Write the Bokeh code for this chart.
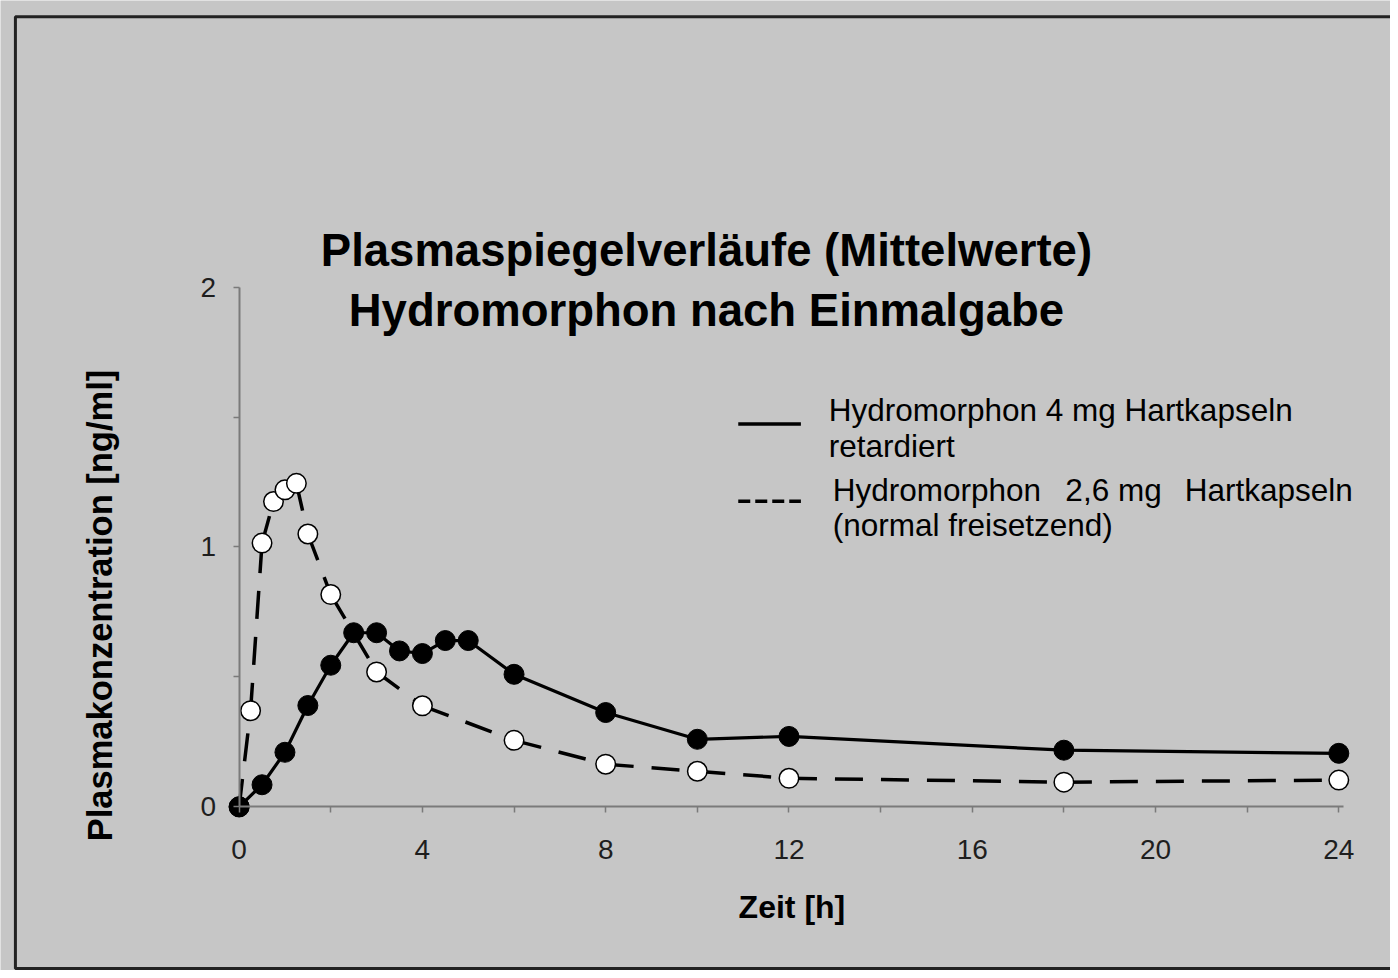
from math import pi
from bokeh.plotting import figure
from bokeh.models import Range1d, FixedTicker, Label, BoxAnnotation
from bokeh.embed import file_html
from bokeh.resources import INLINE

# ---------------- data ----------------
t_retard = [0, 0.5, 1, 1.5, 2, 2.5, 3, 3.5, 4, 4.5, 5, 6, 8, 10, 12, 18, 24]
c_retard = [0, 0.085, 0.21, 0.39, 0.545, 0.67, 0.67, 0.60, 0.59, 0.64, 0.64,
            0.51, 0.363, 0.26, 0.271, 0.218, 0.206]

t_normal = [0, 0.25, 0.5, 0.75, 1, 1.25, 1.5, 2, 3, 4, 6, 8, 10, 12, 18, 24]
c_normal = [0, 0.37, 1.015, 1.175, 1.22, 1.245, 1.05, 0.817, 0.519, 0.389,
            0.256, 0.164, 0.137, 0.11, 0.095, 0.103]

x_ticks = [0, 4, 8, 12, 16, 20, 24]
x_minor = [2, 6, 10, 14, 18, 22]
y_ticks = [0, 1, 2]
y_minor = [0.5, 1.5]

title_lines = ["Plasmaspiegelverläufe (Mittelwerte)", "Hydromorphon nach Einmalgabe"]
x_label = "Zeit [h]"
y_label = "Plasmakonzentration [ng/ml]"

# ---------------- layout ----------------
BG = "#c6c6c6"
W, H = 1390, 970
REF_W, REF_H = 1398, 978
SX, SY = W / REF_W, H / REF_H
# reference-pixel anchors of the axes
RX_0, RX_24 = 240, 1346
RY_0, RY_2 = 813, 289
kx = (RX_24 - RX_0) * SX / 24.0
ky = (RY_0 - RY_2) * SY / 2.0
X0 = -RX_0 * SX / kx
X1 = X0 + W / kx
Y1 = 2 + RY_2 * SY / ky
Y0 = Y1 - H / ky
FONT = "Liberation Sans"
BASE_SHIFT = 0.35  # empirical baseline correction (in em)


def dx(px):
    return X0 + px * SX / kx


def dy(py):
    return Y1 - py * SY / ky


p = figure(width=W, height=H, x_range=Range1d(X0, X1), y_range=Range1d(Y0, Y1),
           output_backend="svg", toolbar_location=None,
           min_border=0, min_border_left=0, min_border_right=0,
           min_border_top=0, min_border_bottom=0)
p.background_fill_color = BG
p.border_fill_color = BG
p.outline_line_color = None
p.grid.visible = False

# axes
for ax in (p.xaxis[0], p.yaxis[0]):
    ax.fixed_location = 0
    ax.axis_line_color = "#7a7a7a"
    ax.axis_line_width = 2
    ax.major_tick_line_color = "#7a7a7a"
    ax.minor_tick_line_color = "#7a7a7a"
    ax.major_tick_line_width = 1.5
    ax.minor_tick_line_width = 1.5
    ax.major_tick_in = 0
    ax.major_tick_out = 6
    ax.minor_tick_in = 0
    ax.minor_tick_out = 6
    ax.major_label_text_font = FONT
    ax.major_label_text_font_size = "28px"
    ax.major_label_text_color = "#1e1e1e"

p.xaxis[0].bounds = (0, 24.1)
p.yaxis[0].bounds = (0, 2)
p.xaxis[0].ticker = FixedTicker(ticks=x_ticks, minor_ticks=x_minor)
p.yaxis[0].ticker = FixedTicker(ticks=y_ticks, minor_ticks=y_minor)
p.xaxis[0].major_label_standoff = 27
p.yaxis[0].major_label_standoff = 17

# normal release: dashed segments restarting at each point
p.segment(x0=t_normal[:-1], y0=c_normal[:-1], x1=t_normal[1:], y1=c_normal[1:],
          line_color="black", line_width=3.5, line_dash="28 18")
p.scatter(t_normal, c_normal, marker="circle", size=19.5, fill_color="white",
          line_color="black", line_width=1.5)

# retard: solid line with filled circles
p.line(t_retard, c_retard, line_color="black", line_width=3.2)
p.scatter(t_retard, c_retard, marker="circle", size=20, fill_color="black",
          line_color="black")

# legend samples
p.line([dx(742), dx(805)], [dy(427), dy(427)], line_color="black", line_width=3.5)
p.line([dx(742), dx(805)], [dy(505), dy(505)], line_color="black", line_width=3.5,
       line_dash="12 5")


def txt(s, px, py, size, bold=False, align="left", angle=0.0):
    shift = BASE_SHIFT * size
    if angle:
        x, y = dx(px - shift), dy(py)
    else:
        x, y = dx(px), dy(py - shift)
    p.add_layout(Label(x=x, y=y, text=s, text_font=FONT,
                       text_font_size=f"{size}px",
                       text_font_style="bold" if bold else "normal",
                       text_align=align, text_baseline="alphabetic", angle=angle,
                       text_color="black"))


txt(title_lines[0], 710, 268, 45.5, bold=True, align="center")
txt(title_lines[1], 710, 328, 45.5, bold=True, align="center")
txt(x_label, 796, 925, 32, bold=True, align="center")
txt(y_label, 112, 610, 34.5, bold=True, align="center", angle=pi / 2)

txt("Hydromorphon 4 mg Hartkapseln", 833, 424, 31.5)
txt("retardiert", 833, 460, 31.5)
txt("Hydromorphon", 837, 505, 31.5)
txt("2,6 mg", 1071, 505, 31.5)
txt("Hartkapseln", 1360, 505, 31.5, align="right")
txt("(normal freisetzend)", 837, 540, 31.5)

# outer frame line
p.add_layout(BoxAnnotation(left=dx(15), right=dx(1440), top=dy(16.5), bottom=dy(976),
                           fill_color=None, fill_alpha=0, line_color="#222222",
                           line_alpha=1.0, line_width=3, level="overlay"))

open("out.html", "w").write(file_html(p, INLINE))
